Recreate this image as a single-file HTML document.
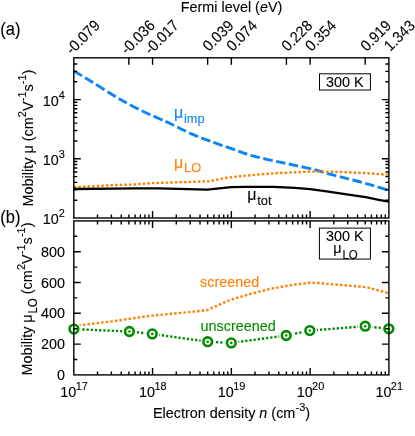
<!DOCTYPE html>
<html><head><meta charset="utf-8"><title>Mobility vs electron density</title><style>
html,body{margin:0;padding:0;background:#fff}
body{width:415px;height:436px;overflow:hidden;font-family:"Liberation Sans",sans-serif}
svg{display:block}
svg{will-change:transform;transform:translateZ(0)}
</style></head><body>
<svg width="415" height="436" viewBox="0 0 415 436" font-family="Liberation Sans, sans-serif" font-size="14.4">
<rect width="415" height="436" fill="#fff"/>
<path d="M73.80 71.00C76.78 72.78 85.10 77.64 91.70 81.70C98.30 85.76 107.25 91.63 113.40 95.35C119.55 99.07 123.18 101.11 128.60 104.00C134.02 106.89 140.67 110.20 145.90 112.70C151.13 115.20 155.70 117.07 160.00 119.00C164.30 120.93 166.13 121.68 171.70 124.30C177.27 126.92 186.18 131.60 193.40 134.70C200.62 137.80 207.78 140.27 215.00 142.90C222.22 145.53 230.58 148.38 236.70 150.50C242.82 152.62 245.58 153.88 251.70 155.60C257.82 157.32 266.18 159.18 273.40 160.80C280.62 162.42 287.42 163.63 295.00 165.30C302.58 166.97 313.62 169.45 318.90 170.80C324.18 172.15 321.78 172.07 326.70 173.40C331.62 174.73 341.18 176.92 348.40 178.80C355.62 180.68 363.25 182.77 370.00 184.70C376.75 186.63 385.75 189.45 388.90 190.40" fill="none" stroke="#0b84f7" stroke-width="2.9" stroke-dasharray="9.6 3.5"/>
<path d="M73.80 187.30L113.40 185.10L135.00 184.50L152.20 183.10L208.60 181.30L223.70 178.30L238.90 176.30L251.70 175.10L273.40 173.40L295.00 172.30L310.00 171.60L326.70 171.60L348.40 172.30L370.00 173.40L388.90 174.90" fill="none" stroke="#ff8000" stroke-width="2.4" stroke-dasharray="2.5 2.1" stroke-linejoin="round"/>
<path d="M73.80 189.00L113.40 188.60L135.00 188.30L158.90 188.30L207.40 189.70L231.00 187.20L245.20 186.90L273.40 186.90L295.00 187.90L310.20 189.20L326.70 191.40L348.40 194.60L365.70 197.20L378.70 199.80L388.90 201.70" fill="none" stroke="#000" stroke-width="2.3" stroke-linejoin="round"/>
<path d="M73.80 326.00L113.40 321.20L135.00 318.00L152.20 315.60L171.70 313.80L193.40 311.60L207.50 310.10L221.60 303.60L230.00 300.10L238.90 297.30L251.70 293.60L273.40 288.20L295.00 284.50L310.20 282.80L320.00 283.00L326.70 283.90L348.40 285.60L365.70 287.10L376.60 289.90L388.90 293.30" fill="none" stroke="#ff8000" stroke-width="2.4" stroke-dasharray="2.5 2.1" stroke-linejoin="round"/>
<path d="M73.90 329.10L129.40 331.50L152.30 333.90L207.70 341.70L231.30 342.90L286.20 335.50L309.80 330.60L365.20 326.20L388.80 328.80" fill="none" stroke="#008c00" stroke-width="2.4" stroke-dasharray="2.3 1.9" stroke-linejoin="round"/>
<circle cx="73.9" cy="329.1" r="7.2" fill="#fff"/>
<circle cx="129.4" cy="331.5" r="7.2" fill="#fff"/>
<circle cx="152.3" cy="333.9" r="7.2" fill="#fff"/>
<circle cx="207.7" cy="341.7" r="7.2" fill="#fff"/>
<circle cx="231.3" cy="342.9" r="7.2" fill="#fff"/>
<circle cx="286.2" cy="335.5" r="7.2" fill="#fff"/>
<circle cx="309.8" cy="330.6" r="7.2" fill="#fff"/>
<circle cx="365.2" cy="326.2" r="7.2" fill="#fff"/>
<circle cx="388.8" cy="328.8" r="7.2" fill="#fff"/>
<circle cx="73.9" cy="329.1" r="4.35" fill="none" stroke="#008c00" stroke-width="2.6"/>
<circle cx="73.9" cy="329.1" r="1.3" fill="#008c00"/>
<circle cx="129.4" cy="331.5" r="4.35" fill="none" stroke="#008c00" stroke-width="2.6"/>
<circle cx="129.4" cy="331.5" r="1.3" fill="#008c00"/>
<circle cx="152.3" cy="333.9" r="4.35" fill="none" stroke="#008c00" stroke-width="2.6"/>
<circle cx="152.3" cy="333.9" r="1.3" fill="#008c00"/>
<circle cx="207.7" cy="341.7" r="4.35" fill="none" stroke="#008c00" stroke-width="2.6"/>
<circle cx="207.7" cy="341.7" r="1.3" fill="#008c00"/>
<circle cx="231.3" cy="342.9" r="4.35" fill="none" stroke="#008c00" stroke-width="2.6"/>
<circle cx="231.3" cy="342.9" r="1.3" fill="#008c00"/>
<circle cx="286.2" cy="335.5" r="4.35" fill="none" stroke="#008c00" stroke-width="2.6"/>
<circle cx="286.2" cy="335.5" r="1.3" fill="#008c00"/>
<circle cx="309.8" cy="330.6" r="4.35" fill="none" stroke="#008c00" stroke-width="2.6"/>
<circle cx="309.8" cy="330.6" r="1.3" fill="#008c00"/>
<circle cx="365.2" cy="326.2" r="4.35" fill="none" stroke="#008c00" stroke-width="2.6"/>
<circle cx="365.2" cy="326.2" r="1.3" fill="#008c00"/>
<circle cx="388.8" cy="328.8" r="4.35" fill="none" stroke="#008c00" stroke-width="2.6"/>
<circle cx="388.8" cy="328.8" r="1.3" fill="#008c00"/>
<g stroke="#000" stroke-width="1.4" fill="none" stroke-linecap="butt">
<rect x="73.8" y="57.8" width="315.10" height="160.20"/>
<rect x="73.8" y="220.9" width="315.10" height="154.00"/>
<path d="M97.51 218.0v-3.5M97.51 220.9v3.5M97.51 374.9v-3.5"/>
<path d="M111.39 218.0v-3.5M111.39 220.9v3.5M111.39 374.9v-3.5"/>
<path d="M121.23 218.0v-3.5M121.23 220.9v3.5M121.23 374.9v-3.5"/>
<path d="M128.86 218.0v-3.5M128.86 220.9v3.5M128.86 374.9v-3.5"/>
<path d="M135.10 218.0v-3.5M135.10 220.9v3.5M135.10 374.9v-3.5"/>
<path d="M140.37 218.0v-3.5M140.37 220.9v3.5M140.37 374.9v-3.5"/>
<path d="M144.94 218.0v-3.5M144.94 220.9v3.5M144.94 374.9v-3.5"/>
<path d="M148.97 218.0v-3.5M148.97 220.9v3.5M148.97 374.9v-3.5"/>
<path d="M152.57 218.0v-7M152.57 220.9v7M152.57 374.9v-7"/>
<path d="M176.29 218.0v-3.5M176.29 220.9v3.5M176.29 374.9v-3.5"/>
<path d="M190.16 218.0v-3.5M190.16 220.9v3.5M190.16 374.9v-3.5"/>
<path d="M200.00 218.0v-3.5M200.00 220.9v3.5M200.00 374.9v-3.5"/>
<path d="M207.64 218.0v-3.5M207.64 220.9v3.5M207.64 374.9v-3.5"/>
<path d="M213.87 218.0v-3.5M213.87 220.9v3.5M213.87 374.9v-3.5"/>
<path d="M219.15 218.0v-3.5M219.15 220.9v3.5M219.15 374.9v-3.5"/>
<path d="M223.72 218.0v-3.5M223.72 220.9v3.5M223.72 374.9v-3.5"/>
<path d="M227.75 218.0v-3.5M227.75 220.9v3.5M227.75 374.9v-3.5"/>
<path d="M231.35 218.0v-7M231.35 220.9v7M231.35 374.9v-7"/>
<path d="M255.06 218.0v-3.5M255.06 220.9v3.5M255.06 374.9v-3.5"/>
<path d="M268.94 218.0v-3.5M268.94 220.9v3.5M268.94 374.9v-3.5"/>
<path d="M278.78 218.0v-3.5M278.78 220.9v3.5M278.78 374.9v-3.5"/>
<path d="M286.41 218.0v-3.5M286.41 220.9v3.5M286.41 374.9v-3.5"/>
<path d="M292.65 218.0v-3.5M292.65 220.9v3.5M292.65 374.9v-3.5"/>
<path d="M297.92 218.0v-3.5M297.92 220.9v3.5M297.92 374.9v-3.5"/>
<path d="M302.49 218.0v-3.5M302.49 220.9v3.5M302.49 374.9v-3.5"/>
<path d="M306.52 218.0v-3.5M306.52 220.9v3.5M306.52 374.9v-3.5"/>
<path d="M310.12 218.0v-7M310.12 220.9v7M310.12 374.9v-7"/>
<path d="M333.84 218.0v-3.5M333.84 220.9v3.5M333.84 374.9v-3.5"/>
<path d="M347.71 218.0v-3.5M347.71 220.9v3.5M347.71 374.9v-3.5"/>
<path d="M357.55 218.0v-3.5M357.55 220.9v3.5M357.55 374.9v-3.5"/>
<path d="M365.19 218.0v-3.5M365.19 220.9v3.5M365.19 374.9v-3.5"/>
<path d="M371.42 218.0v-3.5M371.42 220.9v3.5M371.42 374.9v-3.5"/>
<path d="M376.70 218.0v-3.5M376.70 220.9v3.5M376.70 374.9v-3.5"/>
<path d="M381.27 218.0v-3.5M381.27 220.9v3.5M381.27 374.9v-3.5"/>
<path d="M385.30 218.0v-3.5M385.30 220.9v3.5M385.30 374.9v-3.5"/>
<path d="M128.86 57.8v7"/>
<path d="M152.57 57.8v7"/>
<path d="M207.64 57.8v7"/>
<path d="M231.35 57.8v7"/>
<path d="M286.41 57.8v7"/>
<path d="M310.12 57.8v7"/>
<path d="M365.19 57.8v7"/>
<path d="M73.8 200.18h3.5M388.9 200.18h-3.5"/>
<path d="M73.8 189.75h3.5M388.9 189.75h-3.5"/>
<path d="M73.8 182.36h3.5M388.9 182.36h-3.5"/>
<path d="M73.8 176.62h3.5M388.9 176.62h-3.5"/>
<path d="M73.8 171.93h3.5M388.9 171.93h-3.5"/>
<path d="M73.8 167.97h3.5M388.9 167.97h-3.5"/>
<path d="M73.8 164.54h3.5M388.9 164.54h-3.5"/>
<path d="M73.8 161.51h3.5M388.9 161.51h-3.5"/>
<path d="M73.8 158.80h7M388.9 158.80h-7"/>
<path d="M73.8 140.98h3.5M388.9 140.98h-3.5"/>
<path d="M73.8 130.55h3.5M388.9 130.55h-3.5"/>
<path d="M73.8 123.16h3.5M388.9 123.16h-3.5"/>
<path d="M73.8 117.42h3.5M388.9 117.42h-3.5"/>
<path d="M73.8 112.73h3.5M388.9 112.73h-3.5"/>
<path d="M73.8 108.77h3.5M388.9 108.77h-3.5"/>
<path d="M73.8 105.34h3.5M388.9 105.34h-3.5"/>
<path d="M73.8 102.31h3.5M388.9 102.31h-3.5"/>
<path d="M73.8 99.60h7M388.9 99.60h-7"/>
<path d="M73.8 81.78h3.5M388.9 81.78h-3.5"/>
<path d="M73.8 71.35h3.5M388.9 71.35h-3.5"/>
<path d="M73.8 63.96h3.5M388.9 63.96h-3.5"/>
<path d="M73.8 359.50h3.5M388.9 359.50h-3.5"/>
<path d="M73.8 344.10h7M388.9 344.10h-7"/>
<path d="M73.8 328.70h3.5M388.9 328.70h-3.5"/>
<path d="M73.8 313.30h7M388.9 313.30h-7"/>
<path d="M73.8 297.90h3.5M388.9 297.90h-3.5"/>
<path d="M73.8 282.50h7M388.9 282.50h-7"/>
<path d="M73.8 267.10h3.5M388.9 267.10h-3.5"/>
<path d="M73.8 251.70h7M388.9 251.70h-7"/>
<path d="M73.8 236.30h3.5M388.9 236.30h-3.5"/>
</g>
<rect x="319.5" y="73.8" width="50.9" height="16.2" fill="#fff" stroke="#000" stroke-width="1"/>
<rect x="319.4" y="228.1" width="51" height="31" fill="#fff" stroke="#000" stroke-width="1"/>
<text text-anchor="middle" font-size="14.4" fill="#000" stroke="#000" stroke-width="0.1" transform="translate(231.5,11.6) scale(1,1.07)">Fermi level (<tspan font-style="italic">e</tspan>V)</text>
<text text-anchor="start" font-size="16.5" fill="#000" stroke="#000" stroke-width="0.1" transform="translate(0.3,34.5) scale(1,1.07)">(a)</text>
<text text-anchor="start" font-size="16.5" fill="#000" stroke="#000" stroke-width="0.1" transform="translate(0.3,223.2) scale(1,1.07)">(b)</text>
<text text-anchor="end" font-size="14.4" fill="#000" stroke="#000" stroke-width="0.1" transform="translate(64.9,105.7) scale(1,1.07)">10<tspan font-size="10.94" dx="0" dy="-6.7">4</tspan><tspan dy="6.7" font-size="0.1">&#8203;</tspan></text>
<text text-anchor="end" font-size="14.4" fill="#000" stroke="#000" stroke-width="0.1" transform="translate(64.9,164.9) scale(1,1.07)">10<tspan font-size="10.94" dx="0" dy="-6.7">3</tspan><tspan dy="6.7" font-size="0.1">&#8203;</tspan></text>
<text text-anchor="end" font-size="14.4" fill="#000" stroke="#000" stroke-width="0.1" transform="translate(64.9,224.1) scale(1,1.07)">10<tspan font-size="10.94" dx="0" dy="-6.7">2</tspan><tspan dy="6.7" font-size="0.1">&#8203;</tspan></text>
<text text-anchor="end" font-size="14.4" fill="#000" stroke="#000" stroke-width="0.1" transform="translate(65,256.7) scale(1,1.07)">800</text>
<text text-anchor="end" font-size="14.4" fill="#000" stroke="#000" stroke-width="0.1" transform="translate(65,287.5) scale(1,1.07)">600</text>
<text text-anchor="end" font-size="14.4" fill="#000" stroke="#000" stroke-width="0.1" transform="translate(65,318.3) scale(1,1.07)">400</text>
<text text-anchor="end" font-size="14.4" fill="#000" stroke="#000" stroke-width="0.1" transform="translate(65,349.09999999999997) scale(1,1.07)">200</text>
<text text-anchor="end" font-size="14.4" fill="#000" stroke="#000" stroke-width="0.1" transform="translate(65,379.9) scale(1,1.07)">0</text>
<text text-anchor="middle" font-size="14.4" fill="#000" stroke="#000" stroke-width="0.1" transform="translate(74.1,396.7) scale(1,1.07)">10<tspan font-size="10.94" dx="-0.6" dy="-6.7">17</tspan><tspan dy="6.7" font-size="0.1">&#8203;</tspan></text>
<text text-anchor="middle" font-size="14.4" fill="#000" stroke="#000" stroke-width="0.1" transform="translate(152.875,396.7) scale(1,1.07)">10<tspan font-size="10.94" dx="-0.6" dy="-6.7">18</tspan><tspan dy="6.7" font-size="0.1">&#8203;</tspan></text>
<text text-anchor="middle" font-size="14.4" fill="#000" stroke="#000" stroke-width="0.1" transform="translate(231.64999999999998,396.7) scale(1,1.07)">10<tspan font-size="10.94" dx="-0.6" dy="-6.7">19</tspan><tspan dy="6.7" font-size="0.1">&#8203;</tspan></text>
<text text-anchor="middle" font-size="14.4" fill="#000" stroke="#000" stroke-width="0.1" transform="translate(310.425,396.7) scale(1,1.07)">10<tspan font-size="10.94" dx="-0.6" dy="-6.7">20</tspan><tspan dy="6.7" font-size="0.1">&#8203;</tspan></text>
<text text-anchor="middle" font-size="14.4" fill="#000" stroke="#000" stroke-width="0.1" transform="translate(389.2,396.7) scale(1,1.07)">10<tspan font-size="10.94" dx="-0.6" dy="-6.7">21</tspan><tspan dy="6.7" font-size="0.1">&#8203;</tspan></text>
<text text-anchor="middle" font-size="14.4" fill="#000" stroke="#000" stroke-width="0.1" transform="translate(231.5,418) scale(1,1.07)">Electron density <tspan font-style="italic">n</tspan> (cm<tspan font-size="10.94" dx="0.2" dy="-6.7">-3</tspan><tspan dy="6.7" font-size="0.1">&#8203;</tspan>)</text>
<text text-anchor="start" font-size="16" fill="#0b84f7" stroke="#0b84f7" stroke-width="0.1" transform="translate(174,118.2) scale(1,1.07)">μ<tspan font-size="12.80" dx="0.8" dy="4.6">imp</tspan><tspan dy="-4.6" font-size="0.1">&#8203;</tspan></text>
<text text-anchor="start" font-size="16" fill="#ff8000" stroke="#ff8000" stroke-width="0.1" transform="translate(174,167.5) scale(1,1.07)">μ<tspan font-size="12.80" dx="0.8" dy="4.6">LO</tspan><tspan dy="-4.6" font-size="0.1">&#8203;</tspan></text>
<text text-anchor="start" font-size="16" fill="#000" stroke="#000" stroke-width="0.1" transform="translate(247.2,199.8) scale(1,1.07)">μ<tspan font-size="12.80" dx="0.8" dy="4.6">tot</tspan><tspan dy="-4.6" font-size="0.1">&#8203;</tspan></text>
<text text-anchor="start" font-size="14.4" fill="#ff8000" stroke="#ff8000" stroke-width="0.1" transform="translate(200,287.2) scale(1,1.07)">screened</text>
<text text-anchor="start" font-size="14.4" fill="#008c00" stroke="#008c00" stroke-width="0.1" transform="translate(200.5,330.7) scale(1,1.07)">unscreened</text>
<text text-anchor="middle" font-size="14.4" fill="#000" stroke="#000" stroke-width="0.1" transform="translate(344.8,86.5) scale(1,1.07)">300 K</text>
<text text-anchor="middle" font-size="14.4" fill="#000" stroke="#000" stroke-width="0.1" transform="translate(344.8,240.6) scale(1,1.07)">300 K</text>
<text text-anchor="middle" font-size="14.4" fill="#000" stroke="#000" stroke-width="0.1" transform="translate(345.5,252.9) scale(1,1.07)">μ<tspan font-size="11.52" dx="0.8" dy="5.4">LO</tspan><tspan dy="-5.4" font-size="0.1">&#8203;</tspan></text>
<text text-anchor="start" font-size="14.4" fill="#000" stroke="#000" stroke-width="0.1" transform="translate(72.00,55.3) rotate(-45) translate(0,0) scale(1,1.07)">-0.079</text>
<text text-anchor="start" font-size="14.4" fill="#000" stroke="#000" stroke-width="0.1" transform="translate(127.06,55.3) rotate(-45) translate(0,0) scale(1,1.07)">-0.036</text>
<text text-anchor="start" font-size="14.4" fill="#000" stroke="#000" stroke-width="0.1" transform="translate(150.77,55.3) rotate(-45) translate(0,0) scale(1,1.07)">-0.017</text>
<text text-anchor="start" font-size="14.4" fill="#000" stroke="#000" stroke-width="0.1" transform="translate(205.84,55.3) rotate(-45) translate(4.6,0) scale(1,1.07)">0.039</text>
<text text-anchor="start" font-size="14.4" fill="#000" stroke="#000" stroke-width="0.1" transform="translate(229.55,55.3) rotate(-45) translate(4.6,0) scale(1,1.07)">0.074</text>
<text text-anchor="start" font-size="14.4" fill="#000" stroke="#000" stroke-width="0.1" transform="translate(284.61,55.3) rotate(-45) translate(4.6,0) scale(1,1.07)">0.228</text>
<text text-anchor="start" font-size="14.4" fill="#000" stroke="#000" stroke-width="0.1" transform="translate(308.32,55.3) rotate(-45) translate(4.6,0) scale(1,1.07)">0.354</text>
<text text-anchor="start" font-size="14.4" fill="#000" stroke="#000" stroke-width="0.1" transform="translate(363.39,55.3) rotate(-45) translate(4.6,0) scale(1,1.07)">0.919</text>
<text text-anchor="start" font-size="14.4" fill="#000" stroke="#000" stroke-width="0.1" transform="translate(387.10,55.3) rotate(-45) translate(4.6,0) scale(1,1.07)">1.343</text>
<text text-anchor="middle" font-size="14.4" fill="#000" stroke="#000" stroke-width="0.1" transform="translate(33.3,138) rotate(-90) translate(0,0) scale(1,1.07)">Mobility μ (cm<tspan font-size="10.94" dx="0.2" dy="-6.7">2</tspan><tspan dy="6.7" font-size="0.1">&#8203;</tspan>V<tspan font-size="10.94" dx="0.2" dy="-6.7">-1</tspan><tspan dy="6.7" font-size="0.1">&#8203;</tspan>s<tspan font-size="10.94" dx="0.2" dy="-6.7">-1</tspan><tspan dy="6.7" font-size="0.1">&#8203;</tspan>)</text>
<text text-anchor="middle" font-size="14.4" fill="#000" stroke="#000" stroke-width="0.1" transform="translate(31.8,299) rotate(-90) translate(0,0) scale(1,1.07)">Mobility μ<tspan font-size="11.52" dx="0.8" dy="4.6">LO</tspan><tspan dy="-4.6" font-size="0.1">&#8203;</tspan> (cm<tspan font-size="10.94" dx="0.2" dy="-6.7">2</tspan><tspan dy="6.7" font-size="0.1">&#8203;</tspan>V<tspan font-size="10.94" dx="0.2" dy="-6.7">-1</tspan><tspan dy="6.7" font-size="0.1">&#8203;</tspan>s<tspan font-size="10.94" dx="0.2" dy="-6.7">-1</tspan><tspan dy="6.7" font-size="0.1">&#8203;</tspan>)</text>
</svg>
</body></html>
